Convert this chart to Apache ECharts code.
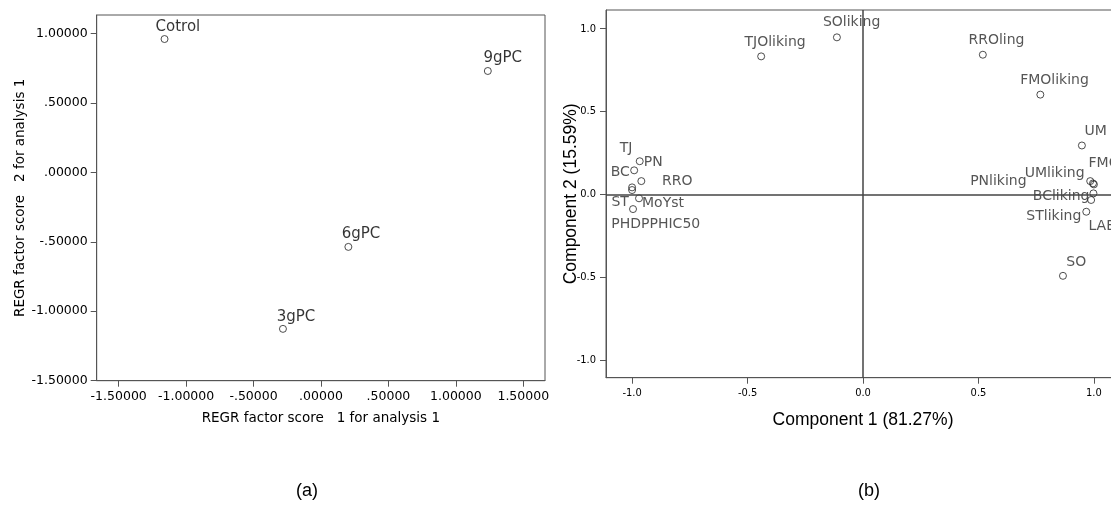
<!DOCTYPE html>
<html><head><meta charset="utf-8">
<script src="https://cdn.jsdelivr.net/npm/echarts@6/dist/echarts.min.js"></script>
<style>html,body{margin:0;padding:0;background:#fff}#c{width:1111px;height:506px}</style>
</head><body><div id="c"></div>
<script>
// ---------- Panel (a): REGR factor scores ----------
const aNames  = ['Cotrol', '9gPC', '6gPC', '3gPC'];
const aScore1 = [-1.160, 1.237, 0.203, -0.282];
const aScore2 = [0.959, 0.729, -0.537, -1.127];
const aXTicks = [-1.5, -1, -0.5, 0, 0.5, 1, 1.5];
const aYTicks = [-1.5, -1, -0.5, 0, 0.5, 1];
const aXTitle = 'REGR factor score   1 for analysis 1';
const aYTitle = 'REGR factor score   2 for analysis 1';

// ---------- Panel (b): component loadings ----------
const bNames = ['TJOliking','SOliking','RROling','FMOliking','PN','BC','RRO','TJ','ST','MoYst','PHDPPHIC50',
                'UM','FMO','UMliking','PNliking','BCliking','LAB','STliking','SO'];
const bComp1 = [-0.441,-0.113,0.519,0.768,-0.967,-0.991,-0.960,-1.000,-1.000,-0.970,-0.996,
                0.948,0.984,0.996,1.000,0.998,0.988,0.967,0.866];
const bComp2 = [0.833,0.948,0.843,0.602,0.200,0.145,0.080,0.042,0.026,-0.024,-0.089,
                0.295,0.080,0.066,0.060,0.006,-0.034,-0.105,-0.492];
const bTicks = [-1, -0.5, 0, 0.5, 1];
const bXTitle = 'Component 1 (81.27%)';
const bYTitle = 'Component 2 (15.59%)';
const panelTags = ['(a)', '(b)'];

// ---------- label placement (align, dx, dy in px from marker centre) ----------
const aLabelLayout = {
  'Cotrol': ['left', -9, -12], '9gPC': ['left', -4.4, -12.9],
  '6gPC': ['left', -6.6, -12.4], '3gPC': ['left', -6.3, -11.7]
};
const bLabelLayout = {
  TJOliking:['left',-16.7,-14.3], SOliking:['left',-14,-15.3], RROling:['left',-14.4,-14],
  FMOliking:['left',-20.2,-14.3], PN:['left',4,1.5], BC:['right',-4.4,1.7], RRO:['left',20.7,0.7],
  TJ:['left',-12.4,-39.5], ST:['left',-20.7,12.5], MoYst:['left',3,4.7], PHDPPHIC50:['left',-21.7,15],
  UM:['left',2.6,-14.5], FMO:['left',-1.7,-17.7], UMliking:['right',-8.4,-10], PNliking:['right',-67.3,-2.6],
  BCliking:['right',-4,3], LAB:['left',-2.7,26.7], STliking:['right',-5,5], SO:['left',3.3,-13.8]
};

function buildData(names, xs, ys, layout) {
  return names.map((n, i) => {
    const l = layout[n] || ['left', 4, 0];
    return { name: n, value: [xs[i], ys[i]], label: { align: l[0], offset: [l[1], l[2]] } };
  });
}
function fmtA(v) {
  let s = Math.abs(v).toFixed(5);
  if (s.charAt(0) === '0') s = s.slice(1);
  return (v < 0 ? '-' : '') + s;
}
const fmtB = v => v.toFixed(1);

const axisColor = '#555';
const narrowFont = "'Liberation Sans Narrow', 'DejaVu Sans Condensed', 'Liberation Sans', sans-serif";
const chart = echarts.init(document.getElementById('c'), null, { renderer: 'canvas' });
chart.setOption({
  animation: false,
  backgroundColor: '#fff',
  grid: [
    { left: 96.7, top: 15, right: 566, bottom: 125.3, show: true, borderColor: axisColor, borderWidth: 1,
      backgroundColor: '#fff', outerBoundsMode: 'none', containLabel: false },
    { left: 606, top: 10, right: -9, bottom: 128.3, show: true, borderColor: axisColor, borderWidth: 1,
      backgroundColor: '#fff', outerBoundsMode: 'none', containLabel: false }
  ],
  xAxis: [
    { gridIndex: 0, type: 'value', min: -1.663, max: 1.661,
      name: aXTitle, nameLocation: 'middle', nameGap: 31, nameMoveOverlap: false,
      nameTextStyle: { fontFamily: 'DejaVu Sans', fontSize: 13.5, color: '#000' },
      axisLine: { show: true, onZero: false, lineStyle: { color: axisColor, width: 1 } },
      axisTick: { show: true, length: 6, customValues: aXTicks, lineStyle: { color: axisColor } },
      axisLabel: { customValues: aXTicks, formatter: fmtA, margin: 10,
        fontFamily: 'DejaVu Sans', fontSize: 12.5, color: '#000' },
      splitLine: { show: false } },
    { gridIndex: 1, type: 'value', min: -1.113, max: 1.113,
      name: bXTitle, nameLocation: 'middle', nameGap: 33, nameMoveOverlap: false,
      nameTextStyle: { fontFamily: 'Liberation Sans', fontSize: 17.5, color: '#000' },
      axisLine: { show: true, onZero: false, lineStyle: { color: axisColor, width: 1 } },
      axisTick: { show: true, length: 6, customValues: bTicks, lineStyle: { color: axisColor } },
      axisLabel: { customValues: bTicks, formatter: fmtB, margin: 10,
        fontFamily: narrowFont, fontSize: 11, color: '#000' },
      splitLine: { show: false } }
  ],
  yAxis: [
    { gridIndex: 0, type: 'value', min: -1.5, max: 1.132,
      name: aYTitle, nameLocation: 'middle', nameGap: 69.7, nameMoveOverlap: false,
      nameTextStyle: { fontFamily: 'DejaVu Sans', fontSize: 13.5, color: '#000' },
      axisLine: { show: true, onZero: false, lineStyle: { color: axisColor, width: 1 } },
      axisTick: { show: true, length: 6, customValues: aYTicks, lineStyle: { color: axisColor } },
      axisLabel: { customValues: aYTicks, formatter: fmtA, margin: 9,
        fontFamily: 'DejaVu Sans', fontSize: 12.5, color: '#000' },
      splitLine: { show: false } },
    { gridIndex: 1, type: 'value', min: -1.107, max: 1.113,
      name: bYTitle, nameLocation: 'middle', nameGap: 26, nameMoveOverlap: false,
      nameTextStyle: { fontFamily: 'Liberation Sans', fontSize: 17.5, color: '#000' },
      axisLine: { show: true, onZero: false, lineStyle: { color: axisColor, width: 1 } },
      axisTick: { show: true, length: 6, customValues: bTicks, lineStyle: { color: axisColor } },
      axisLabel: { customValues: bTicks, formatter: fmtB, margin: 10,
        fontFamily: narrowFont, fontSize: 11, color: '#000' },
      splitLine: { show: false } }
  ],
  series: [
    { type: 'scatter', xAxisIndex: 0, yAxisIndex: 0, symbol: 'circle', symbolSize: 7,
      itemStyle: { color: 'rgba(0,0,0,0)', borderColor: '#222', borderWidth: 1 },
      emphasis: { disabled: true },
      label: { show: true, position: 'inside', verticalAlign: 'middle', formatter: '{b}',
        fontFamily: 'DejaVu Sans', fontSize: 15, color: '#000', textBorderWidth: 0 },
      data: buildData(aNames, aScore1, aScore2, aLabelLayout) },
    { type: 'scatter', xAxisIndex: 1, yAxisIndex: 1, symbol: 'circle', symbolSize: 7,
      itemStyle: { color: 'rgba(0,0,0,0)', borderColor: '#222', borderWidth: 1 },
      emphasis: { disabled: true },
      label: { show: true, position: 'inside', verticalAlign: 'middle', formatter: '{b}',
        fontFamily: 'DejaVu Sans', fontSize: 14, color: '#2a2a2a', textBorderWidth: 0 },
      markLine: { silent: true, symbol: ['none', 'none'], label: { show: false },
        lineStyle: { color: '#444', width: 1.5, type: 'solid' },
        data: [{ xAxis: 0 }, { yAxis: 0 }] },
      data: buildData(bNames, bComp1, bComp2, bLabelLayout) }
  ],
  graphic: [
    { type: 'text', left: 296, top: 482, style: { text: panelTags[0], font: '18px "Liberation Sans"', fill: '#000' } },
    { type: 'text', left: 858, top: 482, style: { text: panelTags[1], font: '18px "Liberation Sans"', fill: '#000' } }
  ]
});
</script>
</body></html>
